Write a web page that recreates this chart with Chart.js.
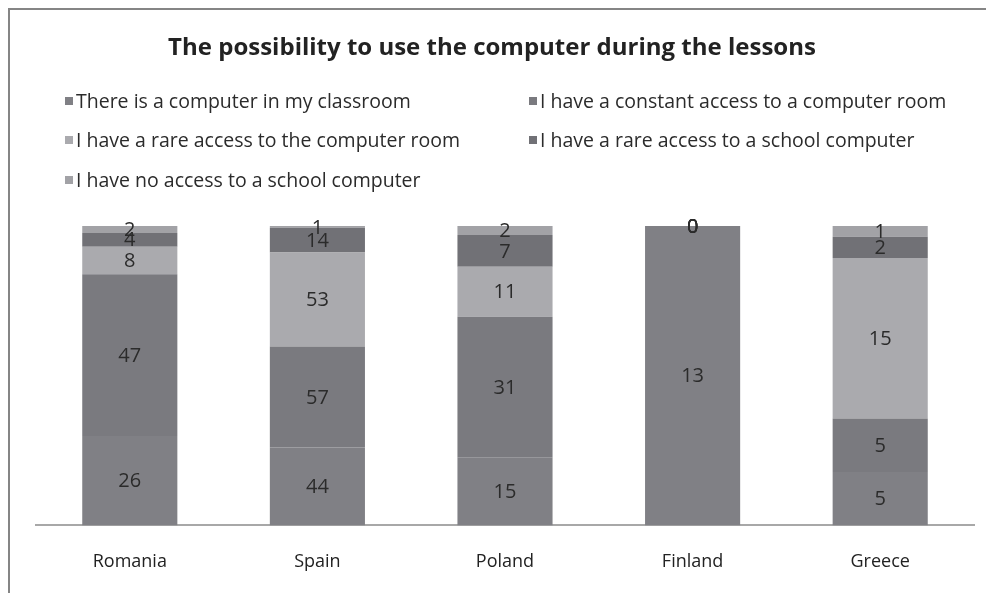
<!DOCTYPE html>
<html>
<head>
<meta charset="utf-8">
<script src="https://cdn.jsdelivr.net/npm/chart.js@4"></script>
<style>
  html, body { margin: 0; padding: 0; background: #fff; }
  #wrap { position: relative; width: 986px; height: 593px; }
  #chart { display: block; }
  #frame { position: absolute; left: 8px; top: 8px; right: 0; bottom: 0;
           border-top: 2px solid #858585; border-left: 2px solid #858585; pointer-events: none; }
</style>
</head>
<body>
<div id="wrap">
  <canvas id="chart" width="986" height="593"></canvas>
  <div id="frame"></div>
</div>
<script>
// Data
var chartTitle = "The possibility to use the computer during the lessons";
var countries = ["Romania", "Spain", "Poland", "Finland", "Greece"];
var seriesNames = [
    "There is a computer in my classroom",
    "I have a constant access to a computer room",
    "I have a rare access to the computer room",
    "I have a rare access to a school computer",
    "I have no access to a school computer"
];
var classroom = [26, 44, 15, 13, 5];
var constantRoom = [47, 57, 31, 0, 5];
var rareRoom = [8, 53, 11, 0, 15];
var rareSchool = [4, 14, 7, 0, 2];
var noAccess = [2, 1, 2, 0, 1];

var allSeries = [classroom, constantRoom, rareRoom, rareSchool, noAccess];
var colors = ["#808085", "#7a7a7f", "#aaaaae", "#717176", "#a2a2a6"];

// 100% stacked: share of each country's total
var totals = countries.map(function (c, i) {
    return allSeries.reduce(function (s, arr) { return s + arr[i]; }, 0);
});
var datasets = allSeries.map(function (arr, k) {
    return {
        label: seriesNames[k],
        data: arr.map(function (v, i) { return v / totals[i] * 100; }),
        raw: arr,
        backgroundColor: colors[k],
        borderWidth: 0
    };
});

// value labels in the middle of each segment
var valueLabels = {
    id: "valueLabels",
    afterDatasetsDraw: function (chart) {
        var ctx = chart.ctx;
        ctx.save();
        ctx.font = "20px 'Open Sans'";
        ctx.fillStyle = "#2b2b2b";
        ctx.textAlign = "center";
        ctx.textBaseline = "middle";
        chart.data.datasets.forEach(function (ds, k) {
            chart.getDatasetMeta(k).data.forEach(function (el, i) {
                ctx.fillText(ds.raw[i], el.x, (el.y + el.base) / 2 + 1);
            });
        });
        ctx.restore();
    }
};

// title + two-column legend like the original
var header = {
    id: "header",
    afterDraw: function (chart) {
        var ctx = chart.ctx;
        ctx.save();
        ctx.font = "bold 24px 'Open Sans'";
        ctx.fillStyle = "#222";
        ctx.textAlign = "center";
        ctx.textBaseline = "middle";
        ctx.fillText(chartTitle, 492, 48);

        var colX = [65, 529];
        var rowY = [101, 140, 180];
        ctx.font = "19.5px 'Open Sans'";
        ctx.textAlign = "left";
        chart.data.datasets.forEach(function (ds, k) {
            var x = colX[k % 2], y = rowY[Math.floor(k / 2)];
            ctx.fillStyle = ds.backgroundColor;
            ctx.fillRect(x, y - 4, 8, 8);
            ctx.fillStyle = "#2b2b2b";
            ctx.fillText(ds.label, x + 11, y + 1);
        });
        ctx.restore();
    }
};

new Chart(document.getElementById("chart"), {
    type: "bar",
    data: { labels: countries, datasets: datasets },
    options: {
        responsive: false,
        animation: false,
        layout: { padding: { left: 36, right: 12, top: 226, bottom: -6 } },
        datasets: { bar: { categoryPercentage: 0.507, barPercentage: 1 } },
        plugins: {
            legend: { display: false },
            tooltip: { enabled: false },
            title: { display: false }
        },
        scales: {
            x: {
                stacked: true,
                grid: { display: false, drawTicks: false },
                border: { display: true, color: "#a8a8a8", width: 2 },
                ticks: { color: "#222", font: { family: "'Open Sans'", size: 18 }, padding: 26 }
            },
            y: { stacked: true, display: false, min: 0, max: 100 }
        }
    },
    plugins: [valueLabels, header]
});
</script>
</body>
</html>
